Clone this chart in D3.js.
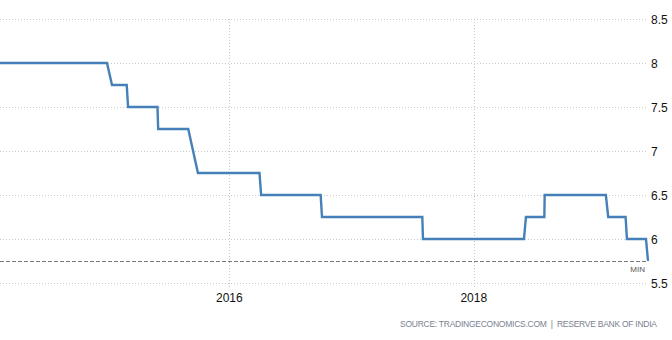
<!DOCTYPE html>
<html><head><meta charset="utf-8">
<script src="https://cdn.jsdelivr.net/npm/d3@7"></script>
<style>
body{margin:0;background:#fff;}
svg{display:block;font-family:"Liberation Sans",Arial,sans-serif;}
</style></head>
<body><svg id="c" width="672" height="340"></svg>
<script>
const obsDates = [
 "2014-01-28","2014-02-28","2014-03-31","2014-04-30","2014-05-31","2014-06-30","2014-07-31","2014-08-31","2014-09-30","2014-10-31","2014-11-30","2014-12-31",
 "2015-01-15","2015-01-31","2015-02-28","2015-03-04","2015-03-31","2015-04-30","2015-05-31","2015-06-02","2015-06-30","2015-07-31","2015-08-31",
 "2015-09-29","2015-10-31","2015-11-30","2015-12-31","2016-01-31","2016-02-29","2016-03-31",
 "2016-04-05","2016-04-30","2016-05-31","2016-06-30","2016-07-31","2016-08-31","2016-09-30",
 "2016-10-04","2016-10-31","2016-11-30","2016-12-31","2017-01-31","2017-02-28","2017-03-31","2017-04-30","2017-05-31","2017-06-30","2017-07-31",
 "2017-08-02","2017-08-31","2017-09-30","2017-10-31","2017-11-30","2017-12-31","2018-01-31","2018-02-28","2018-03-31","2018-04-30","2018-05-31",
 "2018-06-06","2018-06-30","2018-07-31",
 "2018-08-01","2018-08-31","2018-09-30","2018-10-31","2018-11-30","2018-12-31","2019-01-31",
 "2019-02-07","2019-02-28","2019-03-31",
 "2019-04-04","2019-04-30","2019-05-31",
 "2019-06-06"
];
const rateValues = [
 8,8,8,8,8,8,8,8,8,8,8,8,
 7.75,7.75,7.75,7.5,7.5,7.5,7.5,7.25,7.25,7.25,7.25,
 6.75,6.75,6.75,6.75,6.75,6.75,6.75,
 6.5,6.5,6.5,6.5,6.5,6.5,6.5,
 6.25,6.25,6.25,6.25,6.25,6.25,6.25,6.25,6.25,6.25,6.25,
 6,6,6,6,6,6,6,6,6,6,6,
 6.25,6.25,6.25,
 6.5,6.5,6.5,6.5,6.5,6.5,6.5,
 6.25,6.25,6.25,
 6,6,6,
 5.75
];
const yTicks = [5.5, 6, 6.5, 7, 7.5, 8, 8.5];
const xTickLabels = ["2016", "2018"];
const minValue = 5.75;
const sourceText = "SOURCE: TRADINGECONOMICS.COM  |  RESERVE BANK OF INDIA";

const parse = d3.timeParse("%Y-%m-%d");
const data = obsDates.map((d,i)=>({date:parse(d), value:rateValues[i]}));

const svg = d3.select("#c");
const x = d3.scaleTime().domain([parse("2014-02-14"), parse("2019-06-06")]).range([0, 648]);
const y = d3.scaleLinear().domain([5.5, 8.5]).range([283, 19]);

// horizontal grid
svg.append("g").selectAll("line").data(yTicks).join("line")
  .attr("x1",0).attr("x2",647).attr("y1",d=>y(d)+0.5).attr("y2",d=>y(d)+0.5)
  .attr("stroke","#c8c8c8").attr("stroke-dasharray","1,2");
svg.append("g").selectAll("text").data(yTicks).join("text")
  .attr("x",651).attr("y",d=>y(d)+4.5).attr("font-size",12).attr("fill","#111")
  .text(d=>d3.format("")(d));

// vertical grid + labels
const xt = xTickLabels.map(s=>({label:s, date:d3.timeParse("%Y")(s)}));
svg.append("g").selectAll("line").data(xt).join("line")
  .attr("x1",d=>Math.round(x(d.date))+0.5).attr("x2",d=>Math.round(x(d.date))+0.5)
  .attr("y1",y(8.5)).attr("y2",288)
  .attr("stroke","#c8c8c8").attr("stroke-dasharray","1,2");
svg.append("g").selectAll("text").data(xt).join("text")
  .attr("x",d=>x(d.date)).attr("y",302).attr("text-anchor","middle")
  .attr("font-size",12).attr("fill","#111").text(d=>d.label);

// min line
svg.append("line").attr("x1",0).attr("x2",648).attr("y1",y(minValue)+0.5).attr("y2",y(minValue)+0.5)
  .attr("stroke","#777").attr("stroke-dasharray","4,2").attr("stroke-width",1);
svg.append("text").attr("x",645).attr("y",272).attr("text-anchor","end")
  .attr("font-size",8).attr("fill","#555").text("MIN");

// clip
svg.append("clipPath").attr("id","clip").append("rect").attr("x",0).attr("y",0).attr("width",650).attr("height",300);

const line = d3.line().x(d=>x(d.date)).y(d=>y(d.value));
svg.append("path").datum(data).attr("clip-path","url(#clip)")
  .attr("fill","none").attr("stroke","#4680b8").attr("stroke-width",2.4)
  .attr("stroke-linejoin","miter").attr("d",line);

// source
svg.append("text").attr("x",400).attr("y",327)
  .attr("font-size",8.5).attr("fill","#7a8290").attr("xml:space","preserve")
  .style("white-space","pre")
  .attr("textLength",257).attr("lengthAdjust","spacing")
  .text(sourceText);
</script></body></html>
